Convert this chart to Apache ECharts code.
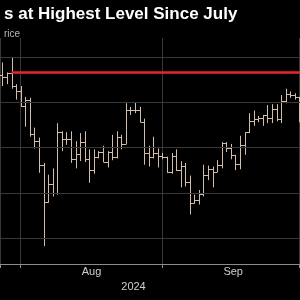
<!DOCTYPE html>
<html><head><meta charset="utf-8">
<script src="https://cdn.jsdelivr.net/npm/echarts@6/dist/echarts.min.js"></script>
<style>html,body{margin:0;padding:0;background:#000;}#c{width:300px;height:300px;}</style>
</head><body><div id="c"></div>
<script>
const dates = ['2024-07-27','2024-07-28','2024-07-29','2024-07-30','2024-07-31',
'2024-08-01','2024-08-02','2024-08-03','2024-08-04','2024-08-05','2024-08-06','2024-08-07','2024-08-08','2024-08-09','2024-08-10',
'2024-08-11','2024-08-12','2024-08-13','2024-08-14','2024-08-15','2024-08-16','2024-08-17','2024-08-18','2024-08-19','2024-08-20',
'2024-08-21','2024-08-22','2024-08-23','2024-08-24','2024-08-25','2024-08-26','2024-08-27','2024-08-28','2024-08-29','2024-08-30','2024-08-31',
'2024-09-01','2024-09-02','2024-09-03','2024-09-04','2024-09-05','2024-09-06','2024-09-07','2024-09-08','2024-09-09','2024-09-10',
'2024-09-11','2024-09-12','2024-09-13','2024-09-14','2024-09-15','2024-09-16','2024-09-17','2024-09-18','2024-09-19','2024-09-20',
'2024-09-21','2024-09-22','2024-09-23','2024-09-24','2024-09-25','2024-09-26','2024-09-27','2024-09-28','2024-09-29','2024-09-30'];
const opens = [68000,67800,68250,66800,66200,
64600,65300,61500,60700,58100,54000,56000,55000,61700,60900,
60900,58700,59300,60600,58700,57500,58900,59500,58400,59500,
59000,61200,60400,64100,64200,64200,62800,59400,59000,59400,59100,
58900,57300,59100,57500,58000,56200,53900,54200,54900,57000,
57600,57300,58100,60500,60000,59200,58200,60300,61700,62900,
63200,63300,63600,63300,64300,63200,65200,65900,65800,65600];
const highs = [69400,68300,70000,67000,66800,
65600,65500,62200,61100,58300,57000,57700,62700,61800,61700,
61800,60700,61600,61800,59800,59800,59600,60200,59600,61400,
61800,61400,64900,64500,65000,64500,63200,60200,61200,59900,59400,
59000,59400,59800,58500,58300,56900,54800,55300,58100,58000,
57900,58600,60600,60600,60400,59200,61300,61700,63800,64100,
63500,63600,64700,64800,64800,65800,66500,66200,66000,65600];
const lows = [66800,67000,66500,65300,64500,
62300,61200,59900,57200,49100,53900,54600,54800,59600,60300,
58300,57700,58500,58400,56100,57100,58800,58400,57800,58600,
58800,59800,60400,63600,63800,62800,58100,57900,58800,57800,58700,
57200,57100,57400,55600,55700,52600,53800,53700,54600,56400,
55600,57300,57700,59500,58700,57500,57600,59200,61600,62400,
62800,62400,62700,62700,62900,62700,64900,65500,65300,62800];
const closes = [67800,68250,66800,66200,64600,
65300,61500,60700,58100,54000,56000,55000,61700,60900,60900,
58700,59300,60600,58700,57500,58900,59500,58400,59500,59000,
61200,60400,64100,64200,64200,62800,59400,59000,59400,59100,58900,
57300,59100,57500,58000,56200,53900,54200,54900,57000,57600,
57300,58100,60500,60000,59200,58200,60300,61700,62900,63200,
63300,63600,63300,64300,63200,65200,65900,65800,65600,63300];
const gridValues = [50000,55000,60000,65000,70000];
const redLevel = 68300;
const redStart = '2024-07-29';
const monthTicks = ['2024-08-01','2024-09-01'];
const monthLabels = ['Aug','Sep'];
const yearLabel = '2024';
const titleText = 's at Highest Level Since July';
const subText = 'rice';

const DAY = 864e5;
function ts(s, h) { const p = s.split('-').map(Number); return new Date(p[0], p[1]-1, p[2], h||0).getTime(); }
const xMin = ts('2024-07-27', 11.3);
const xMax = ts('2024-10-01', 3.6);
const labelShift = 15.5 * DAY;
const monthMap = {};
monthTicks.forEach((m, i) => { monthMap[ts(m)] = monthLabels[i]; });

// each bar is stamped at the close of its day
const ohlc = dates.map((d, i) => [ts(d, 24), opens[i], highs[i], lows[i], closes[i]]);
const barColor = '#d2bcaa';

function renderItem(params, api) {
  const t = api.value(0);
  const o = api.coord([t, api.value(1)]);
  const h = api.coord([t, api.value(2)]);
  const l = api.coord([t, api.value(3)]);
  const c = api.coord([t, api.value(4)]);
  const x = Math.round(h[0]) + 0.5;
  const style = { stroke: barColor, lineWidth: 1 };
  return { type: 'group', children: [
    { type: 'line', shape: { x1: x, y1: h[1], x2: x, y2: l[1] }, style },
    { type: 'line', shape: { x1: x - 2.5, y1: Math.round(o[1]) + 0.5, x2: x, y2: Math.round(o[1]) + 0.5 }, style },
    { type: 'line', shape: { x1: x, y1: Math.round(c[1]) + 0.5, x2: x + 2.5, y2: Math.round(c[1]) + 0.5 }, style }
  ]};
}

const chart = echarts.init(document.getElementById('c'), null, { renderer: 'canvas' });
chart.setOption({
  backgroundColor: '#000',
  animation: false,
  title: [
    { text: titleText, left: -1, top: 1, textStyle: { color: '#fff', fontSize: 17, fontWeight: 'bold', fontFamily: 'Liberation Sans' } },
    { text: subText, left: -1, top: 24, textStyle: { color: '#b5b5b5', fontSize: 10, fontWeight: 'normal', fontFamily: 'Liberation Sans' } }
  ],
  grid: { left: 0, right: 0, top: 38, bottom: 36, containLabel: false },
  xAxis: [{
    type: 'time', min: xMin, max: xMax, minInterval: 28 * DAY,
    axisLine: { show: true, lineStyle: { color: '#8c8c8c', width: 1 } },
    axisTick: { show: true, length: 4, lineStyle: { color: '#8c8c8c' } },
    splitLine: { show: true, lineStyle: { color: '#383838', width: 1 } },
    axisLabel: { show: false }
  }, {
    type: 'time', min: xMin - labelShift, max: xMax - labelShift, minInterval: 28 * DAY, position: 'bottom',
    axisLine: { show: false }, axisTick: { show: false }, splitLine: { show: false },
    axisLabel: { show: true, color: '#cfcfcf', fontSize: 11, margin: 2, fontFamily: 'Liberation Sans',
      formatter: (v) => monthMap[v] || '' },
    name: yearLabel, nameLocation: 'middle', nameGap: 11,
    nameTextStyle: { color: '#cfcfcf', fontSize: 11, fontFamily: 'Liberation Sans', padding: [0, 33, 0, 0] }
  }],
  yAxis: {
    type: 'value', min: 47127, max: 72110, scale: true,
    axisLine: { show: false }, axisTick: { show: false }, axisLabel: { show: false }, splitLine: { show: false }
  },
  series: [{
    type: 'line', data: [], z: 1, silent: true,
    markLine: { silent: true, symbol: ['none', 'none'], label: { show: false },
      lineStyle: { color: '#383838', width: 1, type: 'solid' },
      data: gridValues.map(v => ({ yAxis: v })) }
  }, {
    type: 'custom', renderItem, data: ohlc, z: 3, clip: true,
    encode: { x: 0, y: [1, 2, 3, 4] },
    markLine: { silent: true, symbol: ['none', 'none'], label: { show: false }, z: 4,
      lineStyle: { color: '#e8252b', width: 2.5, type: 'solid' },
      data: [[{ coord: [ts(redStart, 24), redLevel] }, { coord: [xMax, redLevel] }]] }
  }]
});
</script></body></html>
